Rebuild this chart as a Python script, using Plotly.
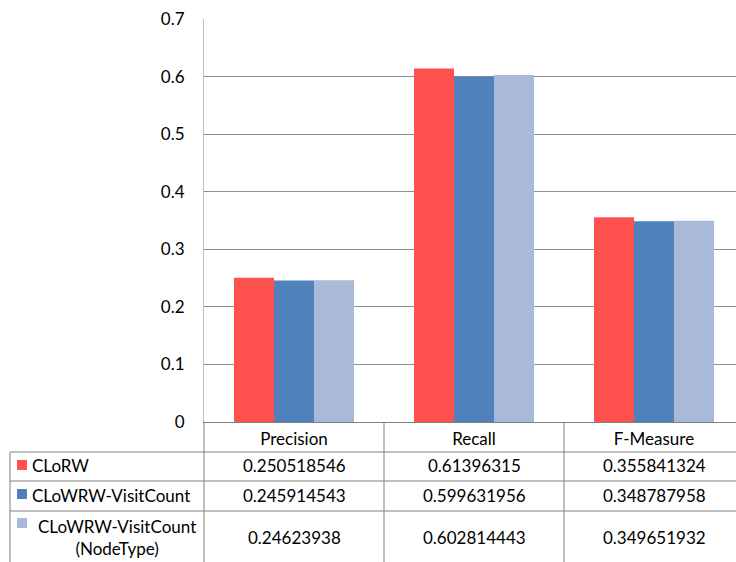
import plotly.graph_objects as go

# Chart data
categories = ["Precision", "Recall", "F-Measure"]
series_names = ["CLoRW", "CLoWRW-VisitCount", "CLoWRW-VisitCount<br>(NodeType)"]
clorw = [0.250518546, 0.61396315, 0.355841324]
visitcount = [0.245914543, 0.599631956, 0.348787958]
visitcount_nodetype = [0.24623938, 0.602814443, 0.349651932]
y_tick_values = [0, 0.1, 0.2, 0.3, 0.4, 0.5, 0.6, 0.7]
y_tick_labels = ["0", "0.1", "0.2", "0.3", "0.4", "0.5", "0.6", "0.7"]

series_values = [clorw, visitcount, visitcount_nodetype]
colors = ["#FF5050", "#4F81BD", "#AAB9D7"]
grid_color = "#8C8C8C"
axis_color = "#BDBDBD"
table_color = "#808080"
font_family = "Lato, Calibri, sans-serif"
font_size = 17

# Page geometry (pixels)
W, H = 736, 562
L, T, B = 204, 19, 140
plot_w = W - L
plot_h = H - T - B
axis_y = H - B


def xp(px):
    return (px - L) / plot_w


def yp(py):
    return (axis_y - py) / plot_h


fig = go.Figure()
for name, vals, col in zip(series_names, series_values, colors):
    fig.add_trace(go.Bar(
        x=categories, y=vals, name=name.replace("<br>", " "),
        marker=dict(color=col, line=dict(width=0)),
        showlegend=False,
    ))

shapes = []
# data table grid lines
for y in [452, 481, 511]:
    shapes.append(dict(type="line", xref="paper", yref="paper",
                       x0=xp(10), x1=1, y0=yp(y), y1=yp(y),
                       line=dict(color=table_color, width=1)))
for x in [204, 384, 564]:
    shapes.append(dict(type="line", xref="paper", yref="paper",
                       x0=xp(x), x1=xp(x), y0=yp(axis_y), y1=yp(H + 2),
                       line=dict(color=table_color, width=1)))
shapes.append(dict(type="line", xref="paper", yref="paper",
                   x0=xp(10), x1=xp(10), y0=yp(452), y1=yp(H + 2),
                   line=dict(color=table_color, width=1)))

annotations = []
row_centers = [466, 495, 537]
key_centers = [465, 494, 523]
for i, (name, vals, col) in enumerate(zip(series_names, series_values, colors)):
    kc = key_centers[i]
    shapes.append(dict(type="rect", xref="paper", yref="paper",
                       x0=xp(17), x1=xp(27), y0=yp(kc + 5), y1=yp(kc - 5),
                       fillcolor=col, line=dict(width=0)))
    if "<br>" in name:
        annotations.append(dict(xref="paper", yref="paper", x=xp(117), y=yp(row_centers[i]),
                                text=name, showarrow=False, xanchor="center", yanchor="middle",
                                align="center", font=dict(size=font_size, color="#000000")))
    else:
        annotations.append(dict(xref="paper", yref="paper", x=xp(30), y=yp(row_centers[i]),
                                text=name, showarrow=False, xanchor="left", yanchor="middle",
                                font=dict(size=font_size, color="#000000")))
    for cat, v in zip(categories, vals):
        annotations.append(dict(xref="x", yref="paper", x=cat, y=yp(row_centers[i]),
                                text=repr(v), showarrow=False, xanchor="center", yanchor="middle",
                                font=dict(size=font_size, color="#000000")))

fig.update_layout(
    width=W, height=H,
    margin=dict(l=L, r=0, t=T, b=B, pad=0),
    paper_bgcolor="white", plot_bgcolor="white",
    font=dict(family=font_family, size=font_size, color="#000000"),
    barmode="group", bargap=1 / 3, bargroupgap=0,
    shapes=shapes, annotations=annotations,
    xaxis=dict(range=[-0.5, -0.5 + plot_w / 180], showline=True, linecolor=table_color,
               linewidth=1, showgrid=False, ticks="", ticklabelstandoff=2,
               tickfont=dict(size=font_size), fixedrange=True),
    yaxis=dict(range=[0, 0.7], tickvals=y_tick_values, ticktext=y_tick_labels,
               showgrid=True, gridcolor=grid_color, gridwidth=1, zeroline=False,
               showline=True, linecolor=axis_color, linewidth=1, ticks="",
               ticklabelstandoff=15, tickfont=dict(size=font_size), fixedrange=True),
)

fig.write_html("out.html")
